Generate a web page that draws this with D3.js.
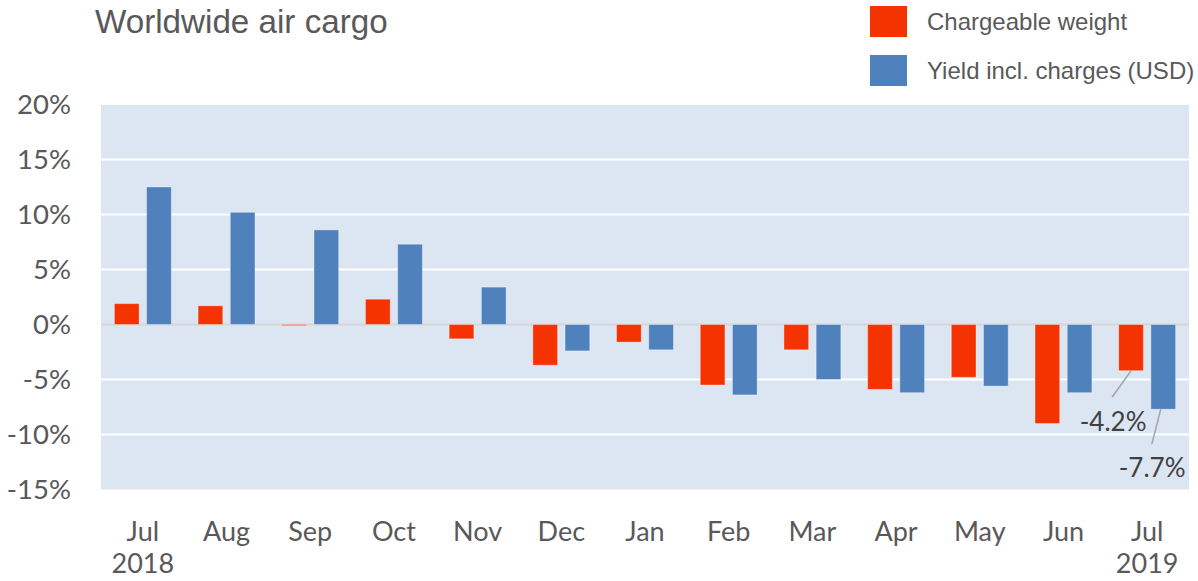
<!DOCTYPE html>
<html><head><meta charset="utf-8">
<script src="https://cdn.jsdelivr.net/npm/d3@7"></script>
<style>html,body{margin:0;padding:0;background:#fff;}svg{display:block;}</style>
</head><body>
<svg id="chart" width="1198" height="581"></svg>
<script>
const categories = ["Jul","Aug","Sep","Oct","Nov","Dec","Jan","Feb","Mar","Apr","May","Jun","Jul"];
const yearLabels = ["2018","","","","","","","","","","","","2019"];
const seriesNames = ["Chargeable weight","Yield incl. charges (USD)"];
const chargeableWeight = [1.9, 1.7, -0.1, 2.3, -1.3, -3.7, -1.6, -5.5, -2.3, -5.9, -4.8, -9.0, -4.2];
const yieldInclCharges = [12.5, 10.2, 8.6, 7.3, 3.4, -2.4, -2.3, -6.4, -5.0, -6.2, -5.6, -6.2, -7.7];
const yTicks = [-15,-10,-5,0,5,10,15,20];
const colors = ["#f43300","#4f81bd"];

const svg = d3.select("#chart");
const L = 101, R = 1189, T = 104.5, B = 489.5;

const x0 = d3.scaleBand().domain(d3.range(categories.length)).range([L,R]).paddingInner(0).paddingOuter(0);
const x1 = d3.scaleBand().domain([0,1]).range([0,x0.bandwidth()]).paddingInner(0.233).paddingOuter(0.416);
const y = d3.scaleLinear().domain([-15,20]).range([B,T]);
const fmt = v => v.toFixed(1) + "%";

// plot background
svg.append("rect").attr("x",L).attr("y",T).attr("width",R-L).attr("height",B-T).attr("fill","#dce6f2");

// gridlines
svg.append("g").selectAll("line").data(yTicks.filter(t=>t!==0 && t!==-15)).join("line")
  .attr("x1",L).attr("x2",R).attr("y1",d=>y(d)).attr("y2",d=>y(d))
  .attr("stroke","#ffffff").attr("stroke-width",d=>d===20?1:2).attr("stroke-opacity",d=>d===20?0.7:1);

// zero line
svg.append("line").attr("x1",L).attr("x2",R).attr("y1",y(0)).attr("y2",y(0))
  .attr("stroke","#d6d6d6").attr("stroke-width",2);

// y axis
const yAxis = d3.axisLeft(y).tickValues(yTicks).tickFormat(d=>d+"%").tickSize(0).tickPadding(0);
const gy = svg.append("g").attr("transform",`translate(71,0)`).call(yAxis);
gy.select(".domain").remove();
gy.selectAll("text").attr("font-family","Lato, 'Open Sans', sans-serif").attr("font-size",27.5)
  .attr("fill","#595959").attr("dy","0.34em");

// x axis
const xAxis = d3.axisBottom(x0).tickFormat(i=>categories[i]).tickSize(0).tickPadding(0);
const gx = svg.append("g").call(xAxis);
gx.select(".domain").remove();
gx.selectAll("text").attr("font-family","Lato, 'Open Sans', sans-serif").attr("font-size",27)
  .attr("fill","#595959").attr("y",541).attr("dy",0);
gx.selectAll(".tick").each(function(i){
  if(yearLabels[i]) d3.select(this).append("text").text(yearLabels[i])
    .attr("font-family","Lato, 'Open Sans', sans-serif").attr("font-size",27)
    .attr("fill","#595959").attr("text-anchor","middle").attr("y",573);
});

// bars
const data = categories.map((c,i)=>({i, vals:[chargeableWeight[i], yieldInclCharges[i]]}));
const groups = svg.append("g").selectAll("g").data(data).join("g")
  .attr("transform",d=>`translate(${x0(d.i)},0)`);
groups.selectAll("rect").data(d=>d.vals.map((v,s)=>({v,s}))).join("rect")
  .attr("x",d=>x1(d.s)).attr("width",x1.bandwidth())
  .attr("y",d=>y(Math.max(0,d.v))).attr("height",d=>Math.max(1,Math.abs(y(d.v)-y(0))))
  .attr("fill",d=>colors[d.s])
  .attr("stroke","#ffffff").attr("stroke-opacity",0.35).attr("stroke-width",1);

// annotations for last month
const last = categories.length-1;
const ann = [
  {s:0, v:chargeableWeight[last], f:0.5, dx:-19, dy:26.6, tx:1146.5, ty:430.7},
  {s:1, v:yieldInclCharges[last], f:0.4, dx:-9, dy:35, tx:1185.5, ty:477}
];
ann.forEach(a=>{
  const sx = x0(last)+x1(a.s)+x1.bandwidth()*a.f, sy = y(a.v);
  svg.append("line").attr("x1",sx).attr("y1",sy).attr("x2",sx+a.dx).attr("y2",sy+a.dy)
    .attr("stroke","#a6a6a6").attr("stroke-width",1.5);
  svg.append("text").text(fmt(a.v)).attr("x",a.tx).attr("y",a.ty)
    .attr("text-anchor","end").attr("font-family","Lato, 'Open Sans', sans-serif")
    .attr("font-size",26).attr("fill","#404040");
});

// title
svg.append("text").text("Worldwide air cargo").attr("x",95).attr("y",33)
  .attr("font-family","'Liberation Sans', Arial, sans-serif").attr("font-size",33.2).attr("fill","#595959");

// legend
const lg = svg.append("g");
seriesNames.forEach((n,s)=>{
  lg.append("rect").attr("x",870).attr("y",6+s*49).attr("width",37).attr("height",31).attr("fill",colors[s]);
  lg.append("text").text(n).attr("x",927).attr("y",30+s*48.5)
    .attr("font-family","'Liberation Sans', Arial, sans-serif").attr("font-size",24).attr("fill","#595959");
});
</script>
</body></html>
